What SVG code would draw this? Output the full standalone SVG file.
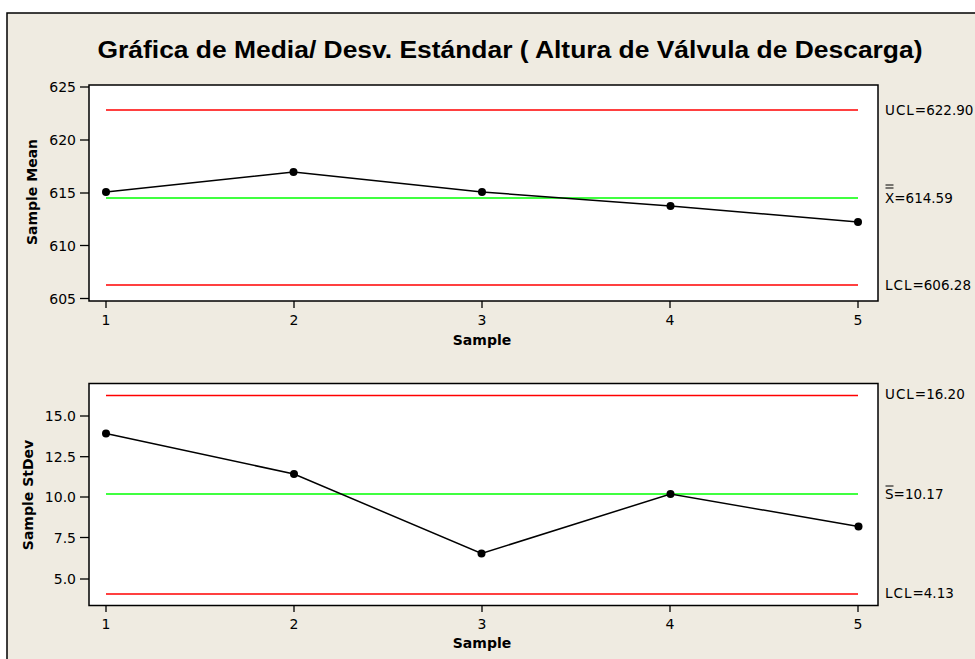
<svg xmlns="http://www.w3.org/2000/svg" width="975" height="659" viewBox="0 0 975 659">
<style>
.tick{font-family:"DejaVu Sans",Verdana,sans-serif;font-size:14px;fill:#000}
.lab{font-family:"DejaVu Sans",Verdana,sans-serif;font-size:13.5px;fill:#000}
.ax{font-family:"DejaVu Sans",Verdana,sans-serif;font-size:14px;font-weight:bold;fill:#000}
.red{stroke:#FF0000;stroke-width:1.5;fill:none}
.grn{stroke:#00FF00;stroke-width:1.5;fill:none}
.dat{stroke:#000;stroke-width:1.5;fill:none}
.frm{stroke:#000;stroke-width:1.5;fill:#fff}
.tk{stroke:#000;stroke-width:1.3}
</style>
<rect x="0" y="0" width="975" height="659" fill="#fff"/>
<rect x="7" y="13" width="980" height="660" fill="#EFEBE1" stroke="#000" stroke-width="1.5"/>
<text x="510" y="58" text-anchor="middle" font-family="Liberation Sans, Arial, sans-serif" font-size="23" font-weight="bold" textLength="825" lengthAdjust="spacingAndGlyphs">Gráfica de Media/ Desv. Estándar ( Altura de Válvula de Descarga)</text>

<g id="mean-chart">
<rect class="frm" x="89" y="85" width="789" height="216"/>
<g class="tk">
<line x1="80" y1="87" x2="89" y2="87"/><line x1="80" y1="140" x2="89" y2="140"/><line x1="80" y1="193" x2="89" y2="193"/><line x1="80" y1="245.5" x2="89" y2="245.5"/><line x1="80" y1="298.5" x2="89" y2="298.5"/>
<line x1="106" y1="301" x2="106" y2="308"/><line x1="294" y1="301" x2="294" y2="308"/><line x1="482" y1="301" x2="482" y2="308"/><line x1="670" y1="301" x2="670" y2="308"/><line x1="858" y1="301" x2="858" y2="308"/>
</g>
<g class="tick" text-anchor="end">
<text x="76" y="92">625</text><text x="76" y="145">620</text><text x="76" y="198">615</text><text x="76" y="250.5">610</text><text x="76" y="303.5">605</text>
</g>
<g class="tick" text-anchor="middle">
<text x="106" y="325">1</text><text x="294" y="325">2</text><text x="482" y="325">3</text><text x="670" y="325">4</text><text x="858" y="325">5</text>
</g>
<text class="ax" x="482" y="345" text-anchor="middle">Sample</text>
<text class="ax" transform="translate(37,192) rotate(-90)" text-anchor="middle">Sample Mean</text>
<line class="red" x1="106" y1="110" x2="858" y2="110"/>
<line class="grn" x1="106" y1="198" x2="858" y2="198"/>
<line class="red" x1="106" y1="285" x2="858" y2="285"/>
<polyline class="dat" points="106,192 293.5,172 482,192 670.5,206 858,222"/>
<g fill="#000"><circle cx="106" cy="192" r="4"/><circle cx="293.5" cy="172" r="4"/><circle cx="482" cy="192" r="4"/><circle cx="670.5" cy="206" r="4"/><circle cx="858" cy="222" r="4"/></g>
<text class="lab" x="885" y="115"><tspan letter-spacing="1">UCL</tspan>=622.90</text>
<text class="lab" x="885" y="203">X=614.59</text>
<line x1="885.5" y1="185" x2="893.5" y2="185" stroke="#000" stroke-width="1"/>
<line x1="885.5" y1="188" x2="893.5" y2="188" stroke="#000" stroke-width="1"/>
<text class="lab" x="885" y="290"><tspan letter-spacing="1">LCL</tspan>=606.28</text>
</g>

<g id="stdev-chart">
<rect class="frm" x="89" y="383.5" width="789" height="222"/>
<g class="tk">
<line x1="80" y1="416" x2="89" y2="416"/><line x1="80" y1="456.7" x2="89" y2="456.7"/><line x1="80" y1="497" x2="89" y2="497"/><line x1="80" y1="537.5" x2="89" y2="537.5"/><line x1="80" y1="579" x2="89" y2="579"/>
<line x1="106" y1="605.5" x2="106" y2="612"/><line x1="294" y1="605.5" x2="294" y2="612"/><line x1="482" y1="605.5" x2="482" y2="612"/><line x1="670" y1="605.5" x2="670" y2="612"/><line x1="858" y1="605.5" x2="858" y2="612"/>
</g>
<g class="tick" text-anchor="end">
<text x="76" y="421">15.0</text><text x="76" y="461.7">12.5</text><text x="76" y="502">10.0</text><text x="76" y="542.5">7.5</text><text x="76" y="584">5.0</text>
</g>
<g class="tick" text-anchor="middle">
<text x="106" y="629">1</text><text x="294" y="629">2</text><text x="482" y="629">3</text><text x="670" y="629">4</text><text x="858" y="629">5</text>
</g>
<text class="ax" x="482" y="648" text-anchor="middle">Sample</text>
<text class="ax" transform="translate(33,495) rotate(-90)" text-anchor="middle">Sample StDev</text>
<line class="red" x1="106" y1="395.5" x2="858" y2="395.5"/>
<line class="grn" x1="106" y1="494" x2="858" y2="494"/>
<line class="red" x1="106" y1="594" x2="858" y2="594"/>
<polyline class="dat" points="106,433.5 294,474 481.5,553.5 670.5,494 858.5,526.5"/>
<g fill="#000"><circle cx="106" cy="433.5" r="4"/><circle cx="294" cy="474" r="4"/><circle cx="481.5" cy="553.5" r="4"/><circle cx="670.5" cy="494" r="4"/><circle cx="858.5" cy="526.5" r="4"/></g>
<text class="lab" x="885" y="399"><tspan letter-spacing="1">UCL</tspan>=16.20</text>
<text class="lab" x="885" y="499">S=10.17</text>
<line x1="885.5" y1="486" x2="893.5" y2="486" stroke="#000" stroke-width="1"/>
<text class="lab" x="885" y="597.5"><tspan letter-spacing="1">LCL</tspan>=4.13</text>
</g>
</svg>
